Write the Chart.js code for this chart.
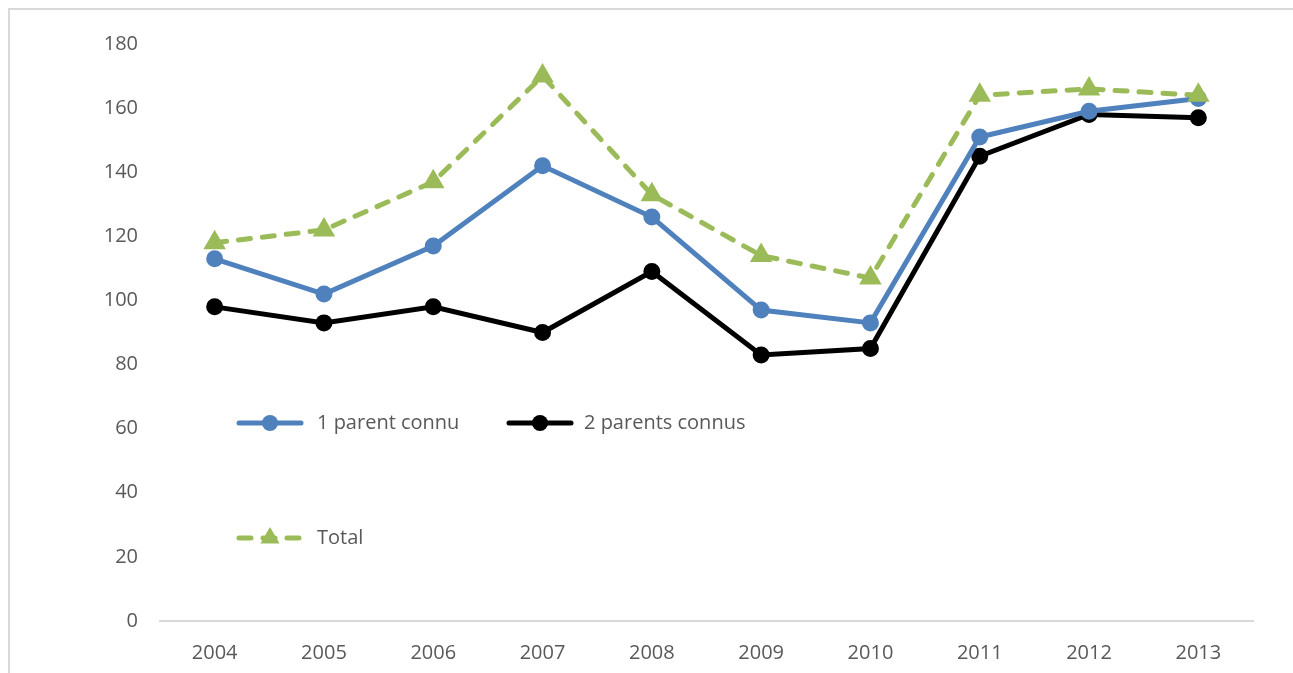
<!DOCTYPE html>
<html>
<head>
<meta charset="utf-8">
<script src="https://cdn.jsdelivr.net/npm/chart.js@4.4.1/dist/chart.umd.min.js"></script>
<style>
  html, body { margin: 0; padding: 0; background: #ffffff; overflow: hidden; }
  #frame {
    position: absolute; left: 8px; top: 8px; width: 1400px; height: 800px;
    border-left: 2px solid #d9d9d9; border-top: 2px solid #d9d9d9;
  }
  #chart { position: absolute; left: 0; top: 0; }
</style>
</head>
<body>
<div id="frame"></div>
<canvas id="chart" width="1293" height="673"></canvas>
<script>
// Années
const years = ['2004', '2005', '2006', '2007', '2008', '2009', '2010', '2011', '2012', '2013'];

// Séries
const unParentConnu = [113, 102, 117, 142, 126, 97, 93, 151, 159, 163];
const deuxParentsConnus = [98, 93, 98, 90, 109, 83, 85, 145, 158, 157];
const total = [118, 122, 137, 170, 133, 114, 107, 164, 166, 164];

// Axe vertical
const yMin = 0;
const yMax = 180;
const yStep = 20;

const textColor = '#595959';
const fontFamily = '"Open Sans", "Liberation Sans", sans-serif';

// Légende dessinée à l'intérieur de la zone du graphique
const insideLegend = {
  id: 'insideLegend',
  afterDraw(chart, args, opts) {
    const ctx = chart.ctx;
    const items = opts.items;
    ctx.save();
    chart.data.datasets.forEach((ds, i) => {
      const it = items[i];
      const y = it.y;
      const cx = it.x + opts.lineLength / 2;
      ctx.strokeStyle = ds.borderColor;
      ctx.lineWidth = ds.borderWidth;
      ctx.lineCap = 'round';
      ctx.setLineDash(ds.borderDash || []);
      ctx.beginPath();
      ctx.moveTo(it.x, y);
      ctx.lineTo(it.x + opts.lineLength, y);
      ctx.stroke();
      ctx.setLineDash([]);
      ctx.fillStyle = ds.pointBackgroundColor;
      ctx.beginPath();
      const r = opts.markerRadius[i];
      if (ds.pointStyle === 'triangle') {
        ctx.moveTo(cx, y - r);
        ctx.lineTo(cx + r * 0.87, y + r * 0.5);
        ctx.lineTo(cx - r * 0.87, y + r * 0.5);
        ctx.closePath();
      } else {
        ctx.arc(cx, y, r, 0, Math.PI * 2);
      }
      ctx.fill();
      ctx.fillStyle = textColor;
      ctx.font = '20px ' + fontFamily;
      ctx.textBaseline = 'middle';
      ctx.textAlign = 'left';
      ctx.fillText(ds.label, it.x + opts.lineLength + it.gap, y);
    });
    ctx.restore();
  }
};

new Chart(document.getElementById('chart'), {
  type: 'line',
  data: {
    labels: years,
    datasets: [
      {
        label: '1 parent connu',
        data: unParentConnu,
        borderColor: '#4f81bd',
        backgroundColor: '#4f81bd',
        pointBackgroundColor: '#4f81bd',
        pointBorderColor: '#4f81bd',
        borderWidth: 5,
        pointStyle: 'circle',
        pointRadius: 6,
        pointHoverRadius: 6,
        tension: 0,
        order: 2
      },
      {
        label: '2 parents connus',
        data: deuxParentsConnus,
        borderColor: '#000000',
        backgroundColor: '#000000',
        pointBackgroundColor: '#000000',
        pointBorderColor: '#000000',
        borderWidth: 5,
        pointStyle: 'circle',
        pointRadius: 6,
        pointHoverRadius: 6,
        tension: 0,
        order: 3
      },
      {
        label: 'Total',
        data: total,
        borderColor: '#9bbb59',
        backgroundColor: '#9bbb59',
        pointBackgroundColor: '#9bbb59',
        pointBorderColor: '#9bbb59',
        borderWidth: 5,
        borderDash: [12, 12],
        borderCapStyle: 'round',
        pointStyle: 'triangle',
        pointRadius: 8,
        pointHoverRadius: 8,
        tension: 0,
        order: 1
      }
    ]
  },
  options: {
    responsive: false,
    animation: false,
    devicePixelRatio: 1,
    layout: { padding: { left: 0, right: 40, top: 44, bottom: 0 } },
    plugins: {
      legend: { display: false },
      tooltip: { enabled: false },
      insideLegend: {
        lineLength: 62,
        markerRadius: [8, 8, 11],
        items: [
          { x: 239, y: 423, gap: 16 },
          { x: 509, y: 423, gap: 13 },
          { x: 239, y: 538, gap: 16 }
        ]
      }
    },
    scales: {
      x: {
        offset: true,
        grid: { display: false, drawTicks: false },
        border: { display: true, color: '#d9d9d9', width: 2 },
        ticks: {
          color: textColor,
          font: { family: fontFamily, size: 20 },
          padding: 20,
          maxRotation: 0
        },
        afterFit(scale) { scale.height = 52; }
      },
      y: {
        min: yMin,
        max: yMax,
        grid: { display: false, drawTicks: false },
        border: { display: false },
        ticks: {
          stepSize: yStep,
          color: textColor,
          font: { family: fontFamily, size: 20 },
          padding: 22
        },
        afterFit(scale) { scale.width = 160; }
      }
    }
  },
  plugins: [insideLegend]
});
</script>
</body>
</html>
